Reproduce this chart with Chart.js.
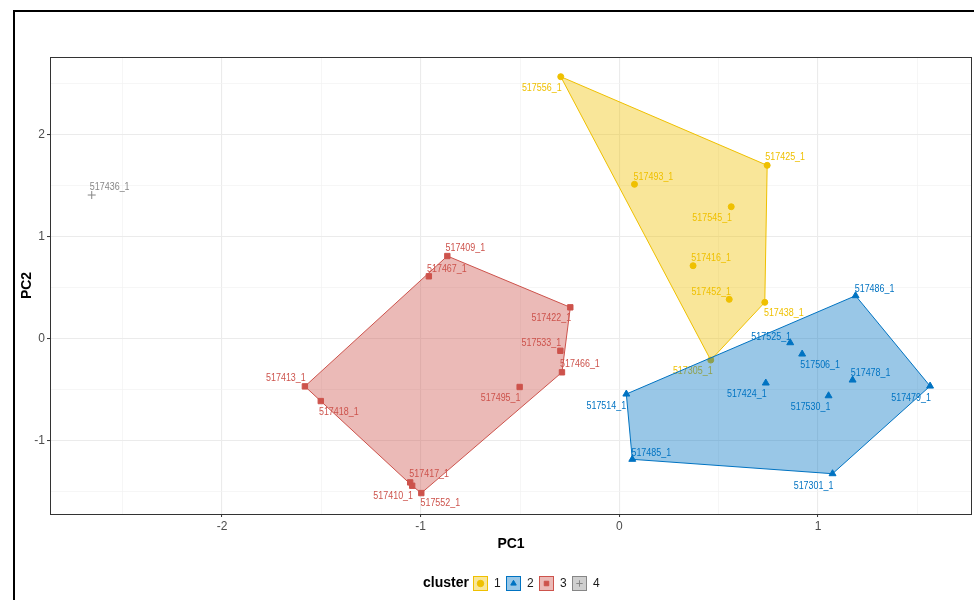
<!DOCTYPE html>
<html>
<head>
<meta charset="utf-8">
<script src="https://cdn.jsdelivr.net/npm/chart.js@4.4.1/dist/chart.umd.min.js"></script>
<style>
html, body { margin: 0; padding: 0; background: #fff; overflow: hidden; }
#chart { display: block; }
</style>
</head>
<body>
<!-- 3px wider than the window: Chart.js keeps a small gap right of the plot -->
<canvas id="chart" width="977" height="600"></canvas>
<script>
// cluster 1
var names1 = ['517556_1', '517425_1', '517493_1', '517545_1', '517416_1', '517452_1', '517438_1', '517305_1'];
var pc1_1 = [-0.295, 0.744, 0.076, 0.563, 0.371, 0.553, 0.732, 0.460];
var pc2_1 = [2.565, 1.696, 1.510, 1.290, 0.712, 0.382, 0.353, -0.213];
// cluster 2
var names2 = ['517486_1', '517525_1', '517506_1', '517478_1', '517479_1', '517424_1', '517530_1', '517514_1', '517485_1', '517301_1'];
var pc1_2 = [1.189, 0.860, 0.920, 1.174, 1.564, 0.737, 1.053, 0.035, 0.065, 1.073];
var pc2_2 = [0.418, -0.043, -0.154, -0.409, -0.468, -0.438, -0.563, -0.546, -1.186, -1.327];
// cluster 3
var names3 = ['517409_1', '517467_1', '517422_1', '517533_1', '517466_1', '517495_1', '517413_1', '517418_1', '517417_1', '517410_1', '517552_1'];
var pc1_3 = [-0.866, -0.959, -0.247, -0.297, -0.289, -0.502, -1.583, -1.503, -1.053, -1.043, -0.997];
var pc2_3 = [0.807, 0.608, 0.304, -0.122, -0.333, -0.477, -0.471, -0.615, -1.412, -1.445, -1.517];
// cluster 4
var names4 = ['517436_1'];
var pc1_4 = [-2.656];
var pc2_4 = [1.405];

var clusterLabels = ['1', '2', '3', '4'];
var xTicks = [-2, -1, 0, 1];
var yTicks = [-1, 0, 1, 2];

// styling
var colors = ['#EFC000', '#0073C2', '#CD534C', '#868686'];
var fills = ['rgba(239,192,0,0.4)', 'rgba(0,115,194,0.4)', 'rgba(205,83,76,0.4)', 'rgba(134,134,134,0.4)'];
var shapes = ['circle', 'triangle', 'rect', 'cross'];
var radii = [3, 4, 3.8, 4];

// text offsets of the point labels (px), like ggrepel placed them
var labelOffsets = {
    '517556_1': [-19, 11], '517425_1': [18, -8], '517493_1': [19, -7], '517545_1': [-19, 11],
    '517416_1': [18, -8], '517452_1': [-18, -7], '517438_1': [19, 11], '517305_1': [-18, 11],
    '517486_1': [19, -7], '517525_1': [-19, -6], '517506_1': [18, 11], '517478_1': [18, -7],
    '517479_1': [-19, 12], '517424_1': [-19, 11], '517530_1': [-18, 11], '517514_1': [-20, 12],
    '517485_1': [19, -6], '517301_1': [-19, 12],
    '517409_1': [18, -8], '517467_1': [18, -7], '517422_1': [-19, 11], '517533_1': [-19, -8],
    '517466_1': [18, -8], '517495_1': [-19, 11], '517413_1': [-19, -8], '517418_1': [18, 11],
    '517417_1': [19, -8], '517410_1': [-19, 10], '517552_1': [19, 10],
    '517436_1': [18, -8]
};

var allNames = [names1, names2, names3, names4];
var allX = [pc1_1, pc1_2, pc1_3, pc1_4];
var allY = [pc2_1, pc2_2, pc2_3, pc2_4];

var xMin = -2.866, xMax = 1.775;
var yMin = -1.722, yMax = 2.758;

function gridValues(major, lo, hi) {
    var out = [];
    major.forEach(function (v) {
        [v - 0.5, v, v + 0.5].forEach(function (g) {
            if (g > lo && g < hi && out.indexOf(g) < 0) out.push(g);
        });
    });
    return out.sort(function (a, b) { return a - b; });
}

function convexHull(points) {
    var p = points.slice().sort(function (a, b) { return a[0] - b[0] || a[1] - b[1]; });
    function cross(o, a, b) { return (a[0] - o[0]) * (b[1] - o[1]) - (a[1] - o[1]) * (b[0] - o[0]); }
    var lower = [], upper = [];
    for (var i = 0; i < p.length; i++) {
        while (lower.length >= 2 && cross(lower[lower.length - 2], lower[lower.length - 1], p[i]) <= 0) lower.pop();
        lower.push(p[i]);
    }
    for (var j = p.length - 1; j >= 0; j--) {
        while (upper.length >= 2 && cross(upper[upper.length - 2], upper[upper.length - 1], p[j]) <= 0) upper.pop();
        upper.push(p[j]);
    }
    upper.pop(); lower.pop();
    return lower.concat(upper);
}

var datasets = clusterLabels.map(function (lab, k) {
    return {
        label: lab,
        data: allX[k].map(function (v, i) { return { x: v, y: allY[k][i], name: allNames[k][i] }; }),
        pointStyle: shapes[k],
        pointRadius: radii[k],
        pointBackgroundColor: colors[k],
        pointBorderColor: colors[k],
        pointBorderWidth: 1
    };
});

var clusterPlugin = {
    id: 'clusterPlugin',
    beforeDraw: function (chart) {
        var ctx = chart.ctx;
        ctx.save();
        ctx.fillStyle = '#fff';
        ctx.fillRect(0, 0, chart.width, chart.height);
        ctx.restore();
    },
    afterDatasetsDraw: function (chart) {
        var ctx = chart.ctx, xs = chart.scales.x, ys = chart.scales.y;
        // point labels
        chart.data.datasets.forEach(function (ds, k) {
            ctx.save();
            ctx.font = '10.5px "Liberation Sans", Arial, sans-serif';
            ctx.fillStyle = colors[k];
            ctx.textAlign = 'center';
            ctx.textBaseline = 'middle';
            ds.data.forEach(function (p) {
                var off = labelOffsets[p.name] || [0, -10];
                ctx.save();
                ctx.translate(xs.getPixelForValue(p.x) + off[0], ys.getPixelForValue(p.y) + off[1]);
                ctx.scale(0.85, 1);
                ctx.fillText(p.name, 0, 0);
                ctx.restore();
            });
            ctx.restore();
        });
        // hulls on top of points, as in the original
        chart.data.datasets.forEach(function (ds, k) {
            if (ds.data.length < 3) return;
            var pts = convexHull(ds.data.map(function (p) {
                return [xs.getPixelForValue(p.x), ys.getPixelForValue(p.y)];
            }));
            ctx.save();
            ctx.beginPath();
            pts.forEach(function (q, i) { if (i) ctx.lineTo(q[0], q[1]); else ctx.moveTo(q[0], q[1]); });
            ctx.closePath();
            ctx.fillStyle = fills[k];
            ctx.fill();
            ctx.strokeStyle = colors[k];
            ctx.lineWidth = 1;
            ctx.stroke();
            ctx.restore();
        });
    },
    afterDraw: function (chart) {
        var ctx = chart.ctx, a = chart.chartArea;
        ctx.save();
        // panel border
        ctx.strokeStyle = '#333';
        ctx.lineWidth = 1;
        ctx.strokeRect(a.left + 0.5, a.top + 0.5, a.right - a.left - 1, a.bottom - a.top);
        // outer frame
        ctx.strokeStyle = '#000';
        ctx.lineWidth = 2;
        ctx.strokeRect(14, 11, chart.width + 20, chart.height + 20);

        // legend
        ctx.fillStyle = '#000';
        ctx.textAlign = 'left';
        ctx.textBaseline = 'middle';
        ctx.font = 'bold 14px "Liberation Sans", Arial, sans-serif';
        ctx.fillText('cluster', 423, 583);
        var bx = [473, 506, 539, 572];
        clusterLabels.forEach(function (lab, k) {
            ctx.fillStyle = '#fff';
            ctx.fillRect(bx[k], 576, 15, 15);
            ctx.fillStyle = fills[k];
            ctx.fillRect(bx[k], 576, 15, 15);
            ctx.strokeStyle = colors[k];
            ctx.lineWidth = 1;
            ctx.strokeRect(bx[k] + 0.5, 576.5, 14, 14);
            ctx.fillStyle = colors[k];
            ctx.strokeStyle = colors[k];
            Chart.helpers.drawPoint(ctx, { pointStyle: shapes[k], radius: 3.2, borderWidth: 1, rotation: 0 }, bx[k] + 7.5, 583.5);
            ctx.fillStyle = '#1a1a1a';
            ctx.font = '12px "Liberation Sans", Arial, sans-serif';
            ctx.fillText(lab, bx[k] + 21, 584);
        });
        ctx.restore();
    }
};

function axisOptions(min, max, major, titleText, titlePad) {
    var grid = gridValues(major, min, max);
    return {
        type: 'linear',
        min: min,
        max: max,
        afterBuildTicks: function (axis) {
            axis.ticks = grid.map(function (v) { return { value: v }; });
        },
        ticks: {
            autoSkip: false,
            maxRotation: 0,
            padding: 2,
            color: '#4D4D4D',
            font: { size: 12 },
            callback: function (v) { return major.indexOf(v) >= 0 ? String(v) : ''; }
        },
        grid: {
            color: function (c) { return major.indexOf(c.tick.value) >= 0 ? '#EBEBEB' : '#F2F2F2'; },
            lineWidth: function (c) { return major.indexOf(c.tick.value) >= 0 ? 1.1 : 0.7; },
            tickColor: function (c) { return major.indexOf(c.tick.value) >= 0 ? '#333' : 'rgba(0,0,0,0)'; },
            tickWidth: 1,
            tickLength: 3
        },
        border: { display: false },
        title: {
            display: true,
            text: titleText,
            color: '#000',
            font: { size: 14, weight: 'bold' },
            padding: titlePad
        }
    };
}

var xAxis = axisOptions(xMin, xMax, xTicks, 'PC1', { top: 0, bottom: 47.6 });
xAxis.afterFit = function (axis) {
    axis.height = 86;
    axis.paddingLeft = 0;
    axis.paddingRight = 0;
};
var yAxis = axisOptions(yMin, yMax, yTicks, 'PC2', { top: 18.6, bottom: 0 });
yAxis.afterFit = function (axis) {
    axis.width = 50;
    axis.paddingTop = 0;
    axis.paddingBottom = 0;
};

Chart.defaults.font.family = '"Liberation Sans", Arial, sans-serif';

new Chart(document.getElementById('chart').getContext('2d'), {
    type: 'scatter',
    data: { datasets: datasets },
    options: {
        responsive: false,
        animation: false,
        layout: { padding: { top: 57, right: 2, left: 0, bottom: 0 } },
        scales: { x: xAxis, y: yAxis },
        plugins: {
            legend: { display: false },
            tooltip: { enabled: false }
        }
    },
    plugins: [clusterPlugin]
});
</script>
</body>
</html>
